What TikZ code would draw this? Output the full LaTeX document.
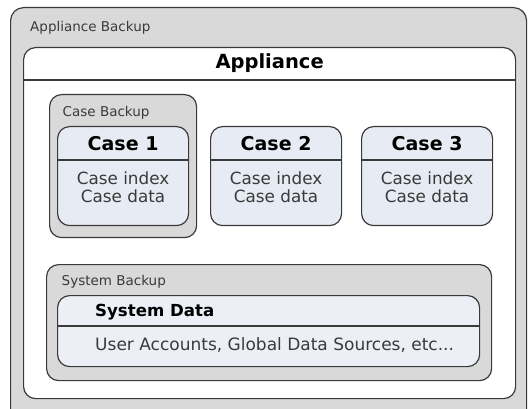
\documentclass[tikz,border=0pt]{standalone}
\usepackage{fontspec}
\setmainfont{DejaVu Sans}
\usepackage{tikz}
\usetikzlibrary{positioning,calc}
\definecolor{boxline}{HTML}{3A3A3A}
\definecolor{backupgray}{HTML}{D9D9D9}
\definecolor{casefill}{HTML}{E6EBF4}
\definecolor{datafill}{HTML}{ECEFF6}
\definecolor{bodytext}{HTML}{3A3A3A}
\tikzstyle{backupbox} = [rectangle, draw=boxline, line width=1.2pt, fill=backupgray,
    rounded corners=12pt, inner sep=0pt, anchor=north west]
\tikzstyle{casebox} = [backupbox, fill=casefill]
\tikzstyle{divider} = [draw=boxline, line width=1.2pt]
\tikzstyle{smalltxt} = [font=\fontsize{13.5}{16}\selectfont, text=bodytext, inner sep=0pt, anchor=base west]
\tikzstyle{titletxt} = [font=\fontsize{19}{22}\selectfont\bfseries, inner sep=0pt, anchor=base]
\tikzstyle{bodytxt} = [font=\fontsize{16.8}{19}\selectfont, text=bodytext, inner sep=0pt, anchor=base]

\begin{document}
\begin{tikzpicture}[x=1pt, y=-1pt]
\useasboundingbox (0,0) rectangle (528,409);

% outer backup frame, runs past the bottom edge
\node[backupbox, rounded corners=13pt, minimum width=516pt, minimum height=415pt] (appbackup) at (10,7) {};
\node[smalltxt] (appbackuptxt) at (30,31.5) {Appliance Backup};

\node[backupbox, fill=white, minimum width=492pt, minimum height=351pt] (appliance) at (23,47) {};
\draw[divider] ([yshift=-33pt]appliance.north west) -- ([yshift=-33pt]appliance.north east);
\node[titletxt, font=\fontsize{19.5}{22}\selectfont\bfseries] (appliancetxt) at ([yshift=-22pt]appliance.north) {Appliance};

\node[backupbox, minimum width=147pt, minimum height=143pt] (casebackup) at (49,94) {};
\node[smalltxt] (casebackuptxt) at (62.5,116.5) {Case Backup};

\node[backupbox, minimum width=445pt, minimum height=116pt] (sysbackup) at (46,264) {};
\node[smalltxt] (sysbackuptxt) at (61.5,285) {System Backup};

% the three cases
\foreach \i/\x in {1/57, 2/210, 3/361} {
  \node[casebox, minimum width=131pt, minimum height=99pt] (case\i) at (\x,126) {};
  \draw[divider] ([yshift=-34pt]case\i.north west) -- ([yshift=-34pt]case\i.north east);
  \node[titletxt] (casetitle\i) at ([yshift=-25pt]case\i.north) {Case \i};
  \node[bodytxt] (caseindex\i) at ([yshift=-59pt]case\i.north) {Case index};
  \node[bodytxt] (casedata\i) at ([yshift=-77pt]case\i.north) {Case data};
}

\node[casebox, fill=datafill, minimum width=422pt, minimum height=71pt] (sysdata) at (57,295) {};
\draw[divider] ([yshift=-31pt]sysdata.north west) -- ([yshift=-31pt]sysdata.north east);
\node[titletxt, anchor=base west, font=\fontsize{16.6}{19}\selectfont\bfseries] (sysdatatxt) at (95,316.5) {System Data};
\node[bodytxt, anchor=base west, font=\fontsize{17}{19}\selectfont] (sysdetails) at (95,350) {User Accounts, Global Data Sources, etc...};
\end{tikzpicture}
\end{document}
